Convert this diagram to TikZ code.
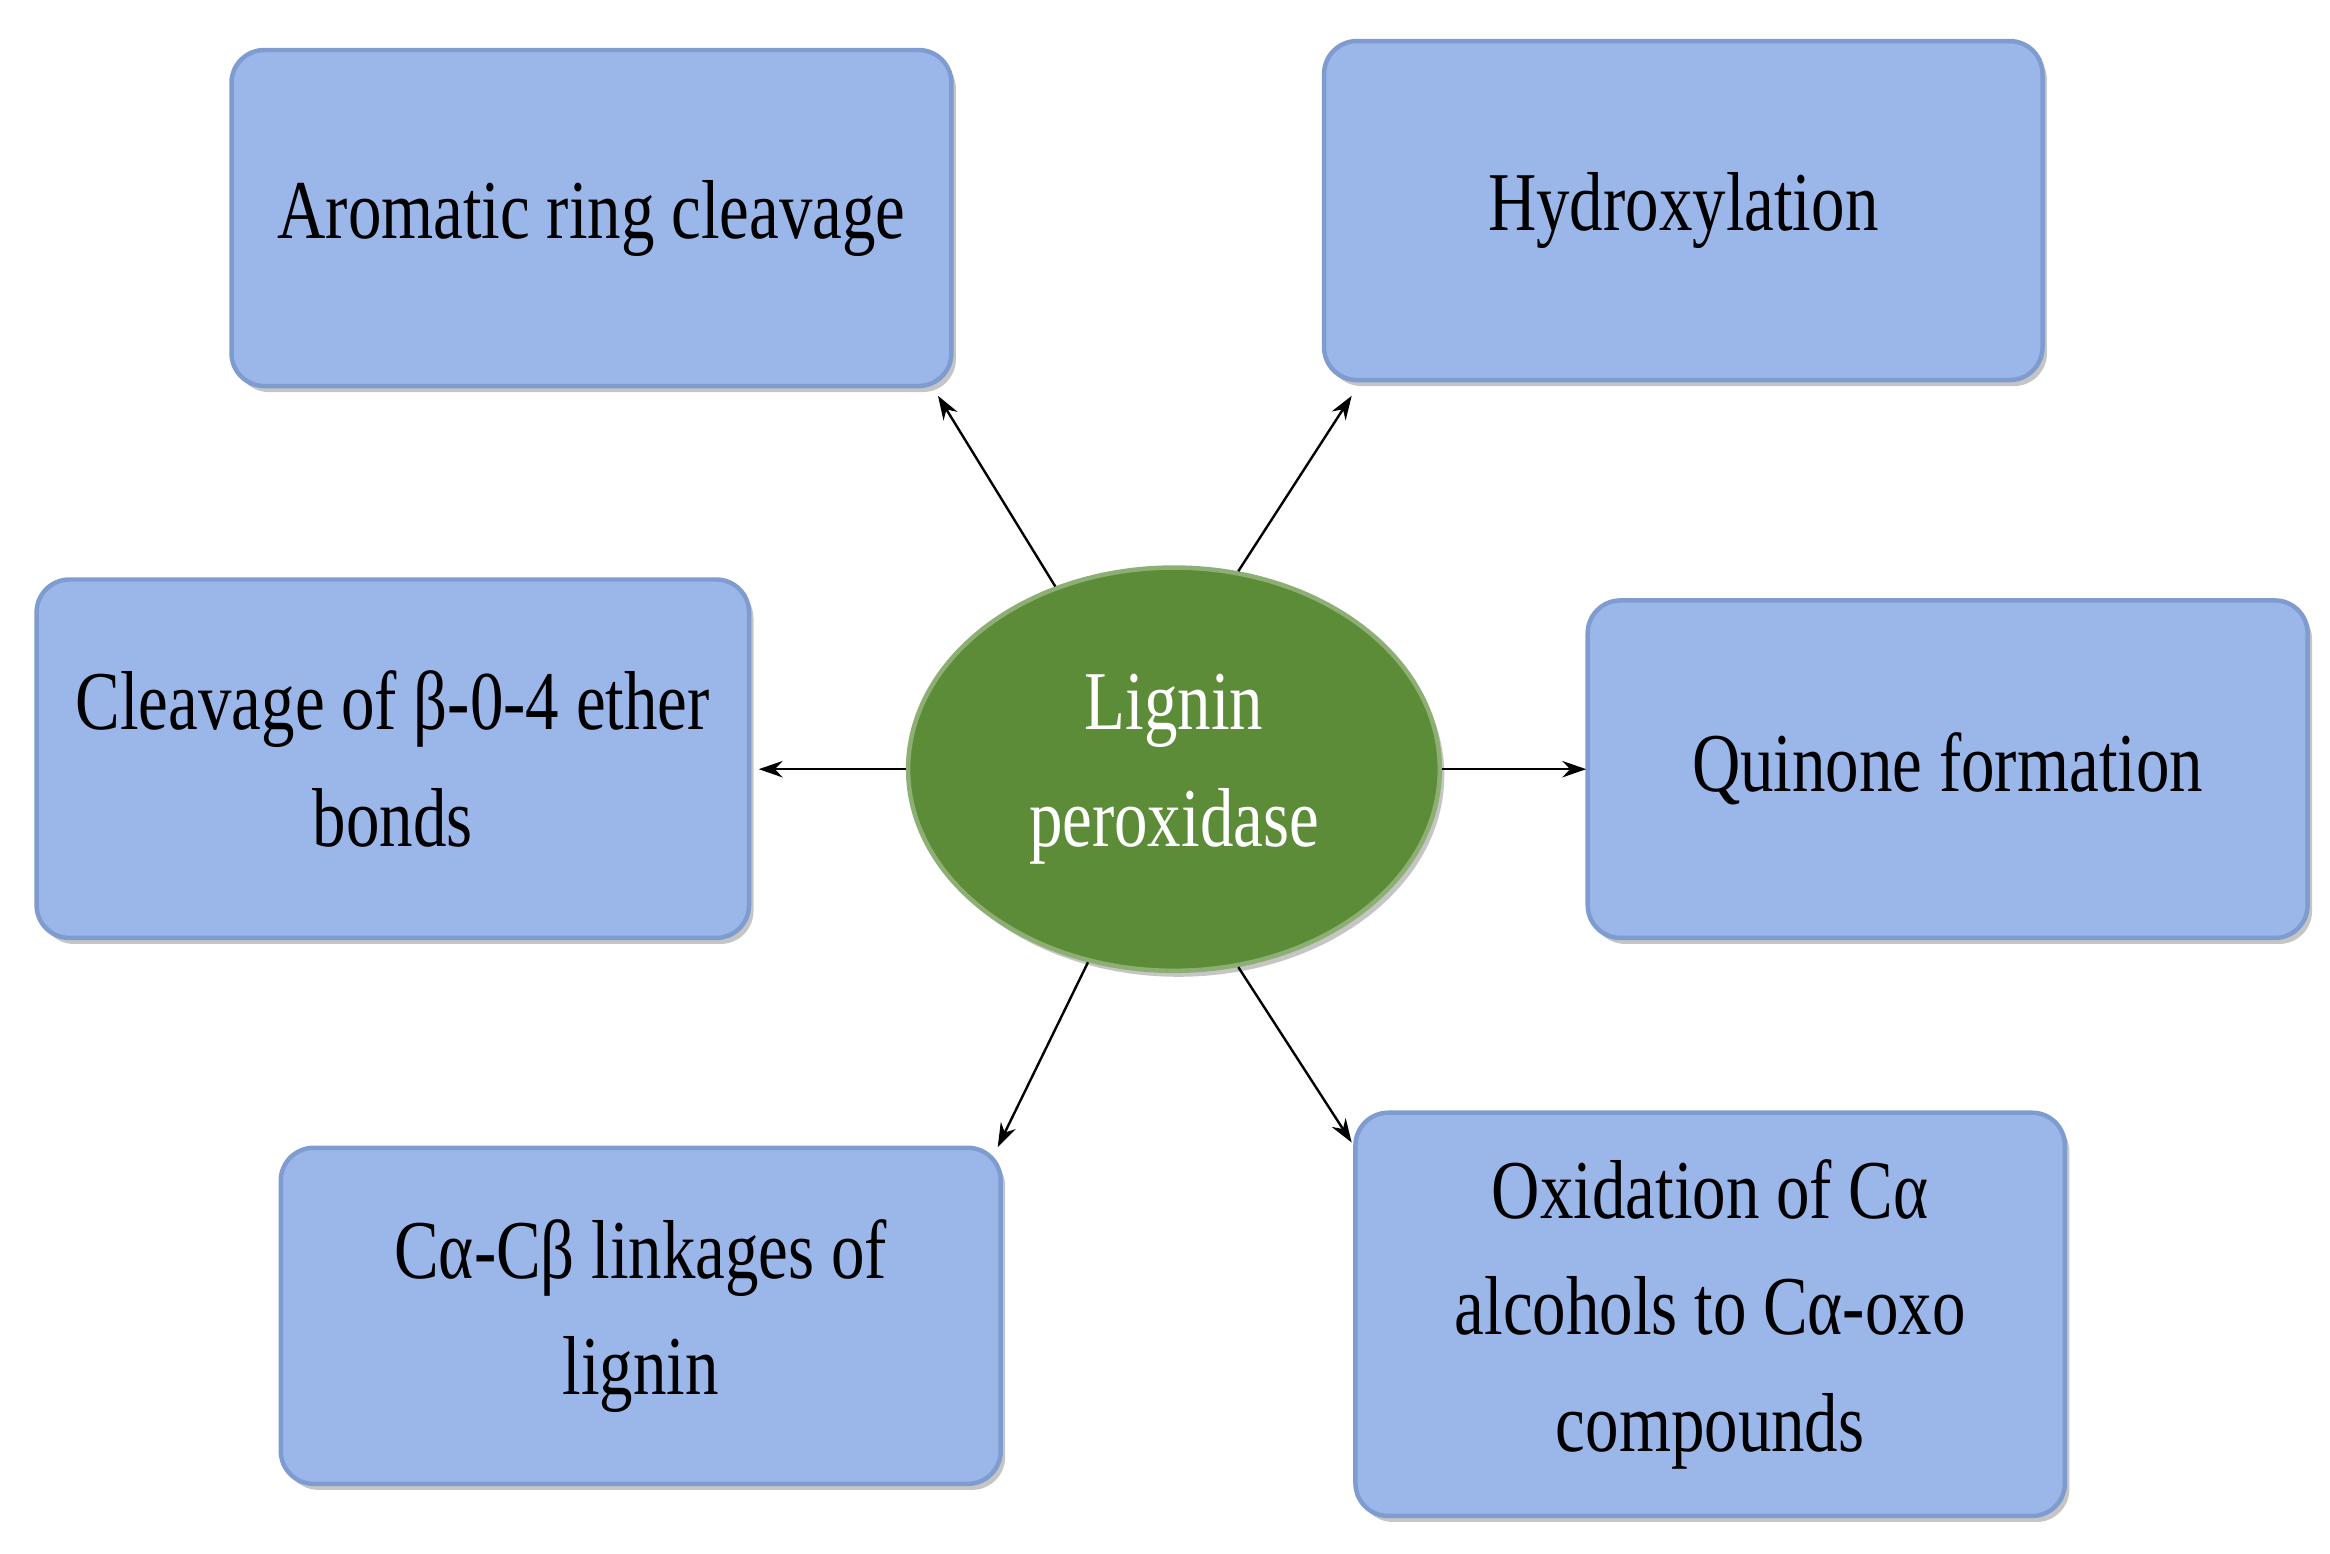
\documentclass[tikz,border=0pt]{standalone}
\usepackage{fontspec}
\setmainfont{Liberation Serif}[FakeStretch=0.8]
\usetikzlibrary{shadows,arrows.meta,shapes.geometric}
\definecolor{boxfill}{HTML}{9BB7EA}
\definecolor{boxline}{HTML}{7F9CD0}
\definecolor{ell}{HTML}{5C8C38}
\begin{document}
\begin{tikzpicture}[x=1pt,y=1pt,
  box/.style={draw=boxline,line width=3pt,fill=boxfill,rounded corners=22pt,
    drop shadow={shadow xshift=3pt,shadow yshift=-4pt,fill=black!45},
    font=\fontsize{56}{78}\selectfont,align=center,inner sep=0pt},
  arr/.style={-{Stealth[length=16pt,width=11pt]},line width=1.6pt}]
\useasboundingbox (0,0) rectangle (1560,1040);
\node[box,minimum width=482,minimum height=225] (a) at (396,894) {Aromatic ring cleavage};
\node[box,minimum width=481,minimum height=227] (h) at (1127,899) {Hydroxylation};
\node[box,minimum width=477,minimum height=240] (c) at (263,532) {Cleavage of β-0-4 ether\\bonds};
\node[box,minimum width=482,minimum height=226] (q) at (1304,525) {Quinone formation};
\node[box,minimum width=482,minimum height=225] (l) at (429,159) {Cα-Cβ linkages of\\lignin};
\node[box,minimum width=475,minimum height=270] (o) at (1145,160) {Oxidation of Cα\\alcohols to Cα-oxo\\compounds};
\node[ellipse,draw=ell!70!white,line width=3pt,fill=ell,minimum width=356,minimum height=270,
  drop shadow={shadow xshift=3pt,shadow yshift=-4pt,fill=black!45},
  text=white,font=\fontsize{56}{78}\selectfont,align=center,inner sep=0pt] (lp) at (786,525) {Lignin\\peroxidase};
\coordinate (ta) at (628,775);
\coordinate (th) at (905,775);
\coordinate (tc) at (508,525);
\coordinate (tq) at (1062,525);
\coordinate (tl) at (668,272);
\coordinate (to) at (905,275);
\draw[arr] (lp.123) -- (ta);
\draw[arr] (lp.72) -- (th);
\draw[arr] (lp.west) -- (tc);
\draw[arr] (lp.east) -- (tq);
\draw[arr] (lp.246) -- (tl);
\draw[arr] (lp.288) -- (to);
\end{tikzpicture}
\end{document}
